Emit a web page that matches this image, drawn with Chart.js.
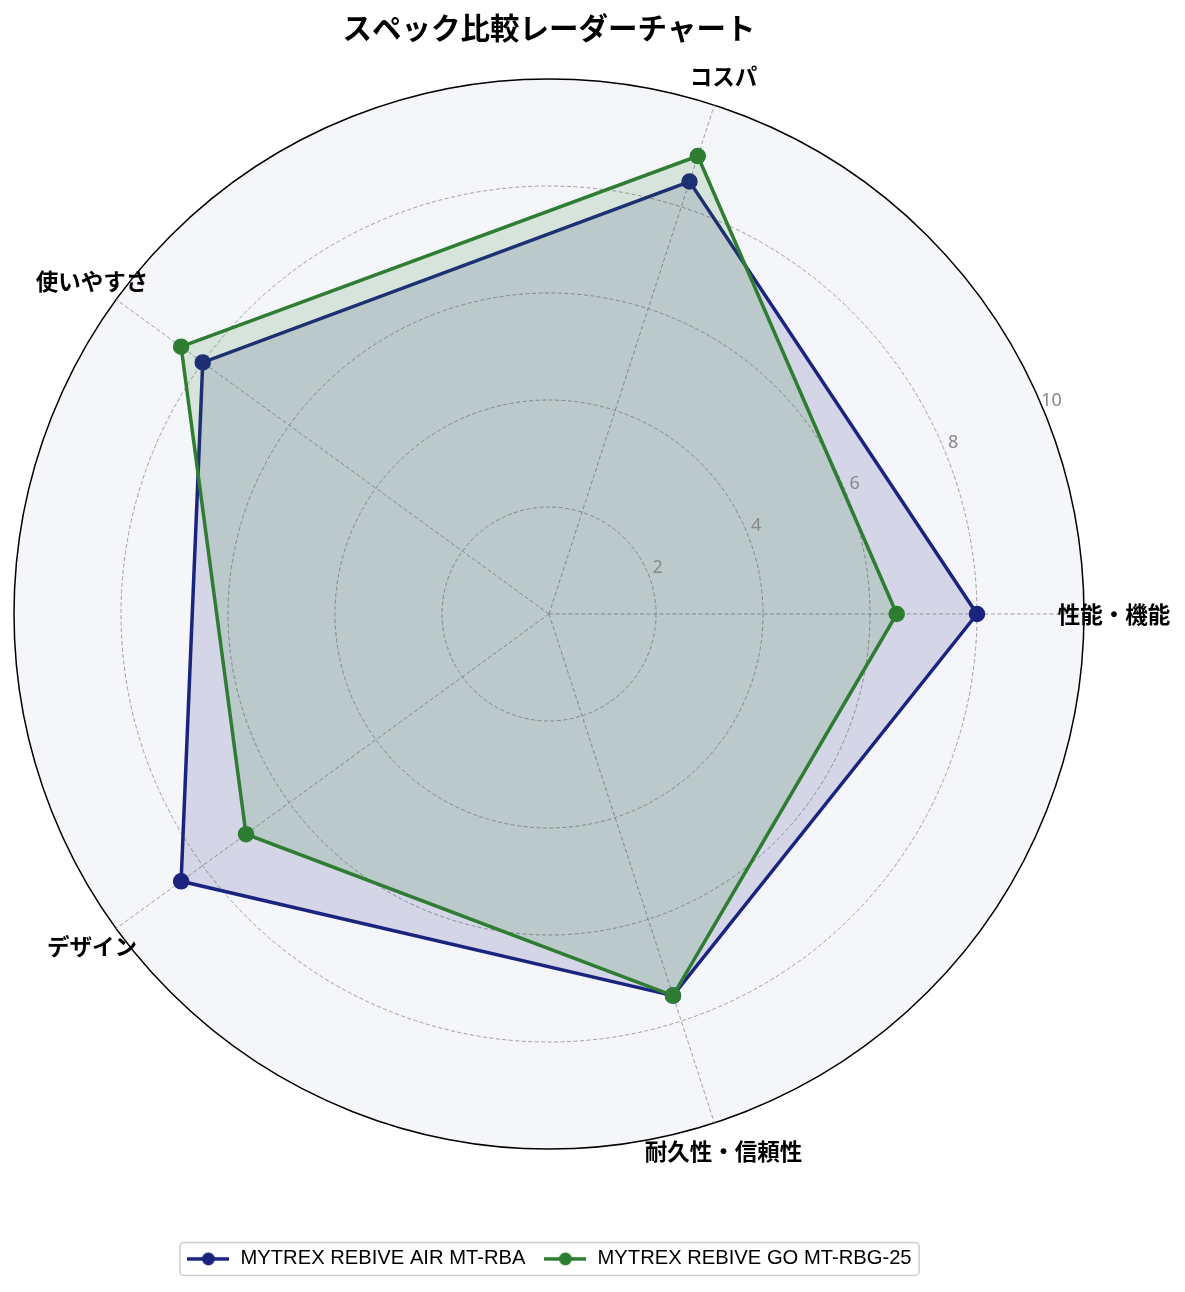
<!DOCTYPE html>
<html lang="ja">
<head>
<meta charset="utf-8">
<title>スペック比較レーダーチャート</title>
<script src="https://cdn.jsdelivr.net/npm/chart.js@4.4.1/dist/chart.umd.min.js"></script>
<style>
  html, body { margin: 0; padding: 0; background: #fff; }
  #wrap { width: 1185px; height: 1292px; }
</style>
</head>
<body>
<div id="wrap"><canvas id="radar" width="1185" height="1292"></canvas></div>
<script>
// 軸ラベル（matplotlib の並び：右から反時計回り）
const categories = ["性能・機能", "コスパ", "使いやすさ", "デザイン", "耐久性・信頼性"];
const seriesNames = ["MYTREX REBIVE AIR MT-RBA", "MYTREX REBIVE GO MT-RBG-25"];
const airScores = [8.0, 8.5, 8.0, 8.5, 7.5];
const goScores = [6.5, 9.0, 8.5, 7.0, 7.5];
const tickValues = [2, 4, 6, 8, 10];

const blue = "#1a237e";
const green = "#2e7d32";

// Chart.js は時計回りなので、右から時計回りの順に並べ替える
const cwOrder = [0, 4, 3, 2, 1];
const labels = cwOrder.map((i) => categories[i]);
const airData = cwOrder.map((i) => airScores[i]);
const goData = cwOrder.map((i) => goScores[i]);

// 凡例用：線＋丸マーカー
function makeMarker(color) {
  const c = document.createElement("canvas");
  c.width = 42;
  c.height = 16;
  const g = c.getContext("2d");
  g.strokeStyle = color;
  g.lineWidth = 3.5;
  g.beginPath();
  g.moveTo(0, 8);
  g.lineTo(42, 8);
  g.stroke();
  g.fillStyle = color;
  g.beginPath();
  g.arc(21, 8, 6.5, 0, Math.PI * 2);
  g.fill();
  return c;
}
const markers = [makeMarker(blue), makeMarker(green)];

// 軸ラベルと目盛り数字を描くプラグイン
const labelPlugin = {
  id: "radarLabels",
  afterDraw(chart) {
    const scale = chart.scales.r;
    const ctx = chart.ctx;
    ctx.save();
    // 目盛り（22.5°方向）
    ctx.font = '18px "Noto Sans", sans-serif';
    ctx.fillStyle = "#888888";
    ctx.textAlign = "center";
    ctx.textBaseline = "middle";
    const a = (-23 * Math.PI) / 180;
    tickValues.forEach((v) => {
      const d = scale.getDistanceFromCenterForValue(v) + 11;
      ctx.fillText(String(v), scale.xCenter + Math.cos(a) * d, scale.yCenter + Math.sin(a) * d);
    });
    // 軸ラベル
    ctx.font = 'bold 22.5px "Noto Sans CJK JP", sans-serif';
    ctx.fillStyle = "#000";
    const outer = scale.getDistanceFromCenterForValue(10) + 30;
    labels.forEach((t, i) => {
      const p = scale.getPointPosition(i, outer);
      ctx.fillText(t, p.x, p.y);
    });
    ctx.restore();

    // 凡例の枠
    const lg = chart.legend;
    if (lg && lg.legendHitBoxes.length) {
      const boxes = lg.legendHitBoxes;
      const x0 = boxes[0].left - 7;
      const x1 = boxes[boxes.length - 1].left + boxes[boxes.length - 1].width + 7;
      const yc = boxes[0].top + boxes[0].height / 2;
      ctx.save();
      ctx.strokeStyle = "#cccccc";
      ctx.lineWidth = 1.5;
      ctx.beginPath();
      ctx.roundRect(x0 + 0.5, yc - 16.5, x1 - x0, 33, 4);
      ctx.stroke();
      ctx.restore();
    }
  },
};

new Chart(document.getElementById("radar"), {
  type: "radar",
  data: {
    labels: labels,
    datasets: [
      {
        label: seriesNames[0],
        data: airData,
        borderColor: blue,
        backgroundColor: "rgba(26, 35, 126, 0.15)",
        pointBackgroundColor: blue,
        pointBorderColor: blue,
        pointRadius: 6.5,
        borderWidth: 3.5,
        fill: true,
        order: 1,
      },
      {
        label: seriesNames[1],
        data: goData,
        borderColor: green,
        backgroundColor: "rgba(46, 125, 50, 0.15)",
        pointBackgroundColor: green,
        pointBorderColor: green,
        pointRadius: 6.5,
        borderWidth: 3.5,
        fill: true,
        order: 0,
      },
    ],
  },
  options: {
    responsive: false,
    animation: false,
    devicePixelRatio: 1,
    layout: {
      padding: { left: 14, right: 101, top: 0, bottom: 13 },
    },
    elements: {
      line: { tension: 0, borderWidth: 3.5 },
    },
    scales: {
      r: {
        min: 0,
        max: 10,
        startAngle: 90,
        backgroundColor: "#f5f6fa",
        ticks: { display: false, stepSize: 2 },
        pointLabels: { display: false },
        grid: {
          circular: true,
          color: (c) => (c.tick && c.tick.value === 10 ? "#000" : "#a0a0a0"),
          lineWidth: (c) => (c.tick && c.tick.value === 10 ? 1.5 : 1),
        },
        border: {
          dash: (c) => (c.tick && c.tick.value === 10 ? [] : [4, 2.5]),
        },
        angleLines: {
          color: "#a0a0a0",
          lineWidth: 1,
          borderDash: [4, 2.5],
        },
      },
    },
    plugins: {
      title: {
        display: true,
        text: "スペック比較レーダーチャート",
        color: "#000",
        font: { family: '"Noto Sans CJK JP", sans-serif', size: 29.5, weight: "bold" },
        padding: { top: 10, bottom: 33.6 },
      },
      legend: {
        position: "bottom",
        title: {
          display: true,
          text: "",
          font: { size: 12, lineHeight: 1 },
          padding: { top: 69, bottom: 0 },
        },
        labels: {
          color: "#000",
          font: { family: '"Liberation Sans", Arial, sans-serif', size: 20.2 },
          usePointStyle: true,
          pointStyleWidth: 44,
          padding: 18,
          sort: (a, b) => a.datasetIndex - b.datasetIndex,
          generateLabels: (chart) =>
            chart.data.datasets.map((ds, i) => ({
              text: ds.label,
              datasetIndex: i,
              pointStyle: markers[i],
              fillStyle: ds.borderColor,
              strokeStyle: ds.borderColor,
              lineWidth: 0,
              hidden: false,
              fontColor: "#000",
            })),
        },
      },
      tooltip: { enabled: false },
    },
  },
  plugins: [labelPlugin],
});
</script>
</body>
</html>
